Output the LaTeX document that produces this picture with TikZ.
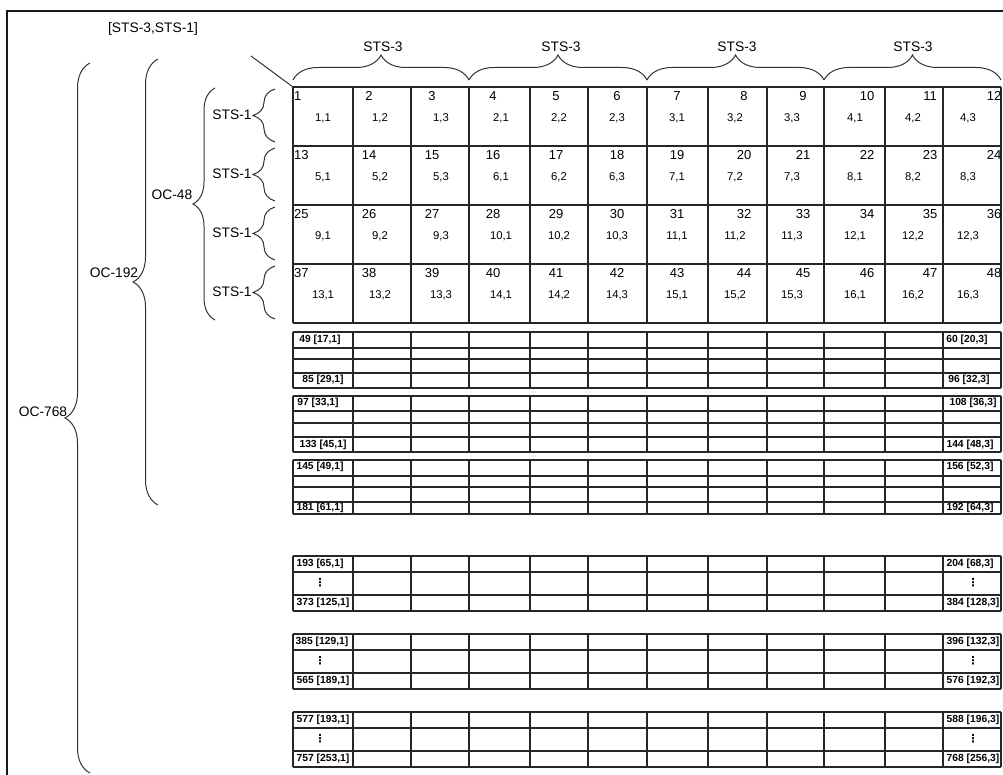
\documentclass[tikz,border=0pt]{standalone}
\usepackage{fontspec}
\setmainfont{Liberation Sans}
\newfontfamily\djv{DejaVu Sans}
\usetikzlibrary{decorations.pathreplacing}
\newcommand\mydots{{\djv\bfseries ⋮}}
\begin{document}
\begin{tikzpicture}[x=1pt,y=-1pt,
  lbl/.style={inner sep=0pt, font=\fontsize{13.8}{16}\selectfont},
  topnum/.style={inner sep=0pt, font=\fontsize{13}{15}\selectfont},
  pairnum/.style={inner sep=0pt, font=\fontsize{11.3}{13}\selectfont},
  tlbl/.style={inner sep=0pt, font=\bfseries\fontsize{10.3}{12}\selectfont},
  dotlbl/.style={inner sep=0pt, font=\fontsize{11}{12}\selectfont},
  gridline/.style={line width=1.2pt, black!85},
  brc/.style={decorate, decoration={brace, amplitude=#1}, line width=1pt, black!80},
  frameline/.style={line width=1.4pt, black!90},
]
\useasboundingbox (0,0) rectangle (1003,775);
\def\cols{293,353,411,469,530,588,647,708,767,824,885,943,1001}
% frame
\draw[frameline] (7,800) -- (7,11) -- (1020,11);
% title
\node[lbl] (title) at (153,29) {[STS-3,STS-1]};
% main grid
\foreach \y in {87,146,205,264,323} \draw[gridline] (293,\y) -- (1001,\y);
\foreach \x in \cols \draw[gridline] (\x,87) -- (\x,323);
\coordinate (gridNW) at (293,87);
\coordinate (diagEnd) at (251,56);
\draw[line width=1pt, black!80] (diagEnd) -- (gridNW);
% cell texts
\foreach \r [count=\ri] in {87,146,205,264} {
  \foreach \c/\tx/\px in {1/0/323,2/369/380,3/432/441,4/493/501,5/556/559,6/617/617,7/677/677,8/744/735,9/803/792,10/867/855,11/930/913,12/994/968} {
    \pgfmathtruncatemacro\n{12*(\ri-1)+\c}
    \pgfmathtruncatemacro\a{4*(\ri-1)+floor((\c-1)/3)+1}
    \pgfmathtruncatemacro\b{mod(\c-1,3)+1}
    \ifnum\c=1
      \node[topnum, anchor=west] (t\n) at (294,\r+9) {\n};
    \else
      \node[topnum] (t\n) at (\tx,\r+9) {\n};
    \fi
    \node[pairnum] (p\n) at (\px,\r+31) {\a,\b};
  }
  \node[lbl] (sts1\ri) at (232,\r+28) {STS-1};
  \draw[brc=22] (275,\r+55) -- (275,\r+2);
}
% STS-3 braces
\foreach \xa/\xb/\tx [count=\k] in {293/469/383, 469/647/561, 647/824/737, 824/1001/913} {
  \draw[brc=25] (\xa,80) -- (\xb,80);
  \node[lbl] (sts3\k) at (\tx,47) {STS-3};
}
% left braces
\draw[brc=22] (215,320) -- (215,88);
\node[lbl] (oc48) at (172,195) {OC-48};
\draw[brc=25] (158,505) -- (158,59);
\node[lbl] (oc192) at (114,273) {OC-192};
\draw[brc=25] (90,773) -- (90,63);
\node[lbl] (oc768) at (43,412) {OC-768};
% small tables
\foreach \y in {332,348,359,373,388, 396,411,423,437,452, 460,476,487,502,514,
                556,572,595,611, 634,650,673,689, 712,728,751,767}
  \draw[gridline] (293,\y) -- (1001,\y);
\foreach \t/\b in {332/388,396/452,460/514,556/611,634/689,712/767}
  \foreach \x in \cols \draw[gridline] (\x,\t) -- (\x,\b);
% small table labels
\node[tlbl] (l1) at (320,340) {49 [17,1]};
\node[tlbl] (l2) at (323,380) {85 [29,1]};
\node[tlbl] (l3) at (318,403) {97 [33,1]};
\node[tlbl] (l4) at (323,445) {133 [45,1]};
\node[tlbl] (l5) at (320,467) {145 [49,1]};
\node[tlbl] (l6) at (320,508) {181 [61,1]};
\node[tlbl] (r1) at (967,340) {60 [20,3]};
\node[tlbl] (r2) at (969,380) {96 [32,3]};
\node[tlbl] (r3) at (973,403) {108 [36,3]};
\node[tlbl] (r4) at (970,445) {144 [48,3]};
\node[tlbl] (r5) at (970,467) {156 [52,3]};
\node[tlbl] (r6) at (970,508) {192 [64,3]};
\node[tlbl] (l7) at (320,564) {193 [65,1]};
\node[dotlbl] (d1) at (320,583) {\mydots};
\node[tlbl] (l8) at (323,603) {373 [125,1]};
\node[tlbl] (l9) at (322,642) {385 [129,1]};
\node[dotlbl] (d2) at (320,661) {\mydots};
\node[tlbl] (l10) at (323,681) {565 [189,1]};
\node[tlbl] (l11) at (323,720) {577 [193,1]};
\node[dotlbl] (d3) at (320,739) {\mydots};
\node[tlbl] (l12) at (323,759) {757 [253,1]};
\node[tlbl] (r7) at (970,564) {204 [68,3]};
\node[dotlbl] (d4) at (973,583) {\mydots};
\node[tlbl] (r8) at (973,603) {384 [128,3]};
\node[tlbl] (r9) at (973,642) {396 [132,3]};
\node[dotlbl] (d5) at (973,661) {\mydots};
\node[tlbl] (r10) at (973,681) {576 [192,3]};
\node[tlbl] (r11) at (973,720) {588 [196,3]};
\node[dotlbl] (d6) at (973,739) {\mydots};
\node[tlbl] (r12) at (973,759) {768 [256,3]};
\end{tikzpicture}
\end{document}
